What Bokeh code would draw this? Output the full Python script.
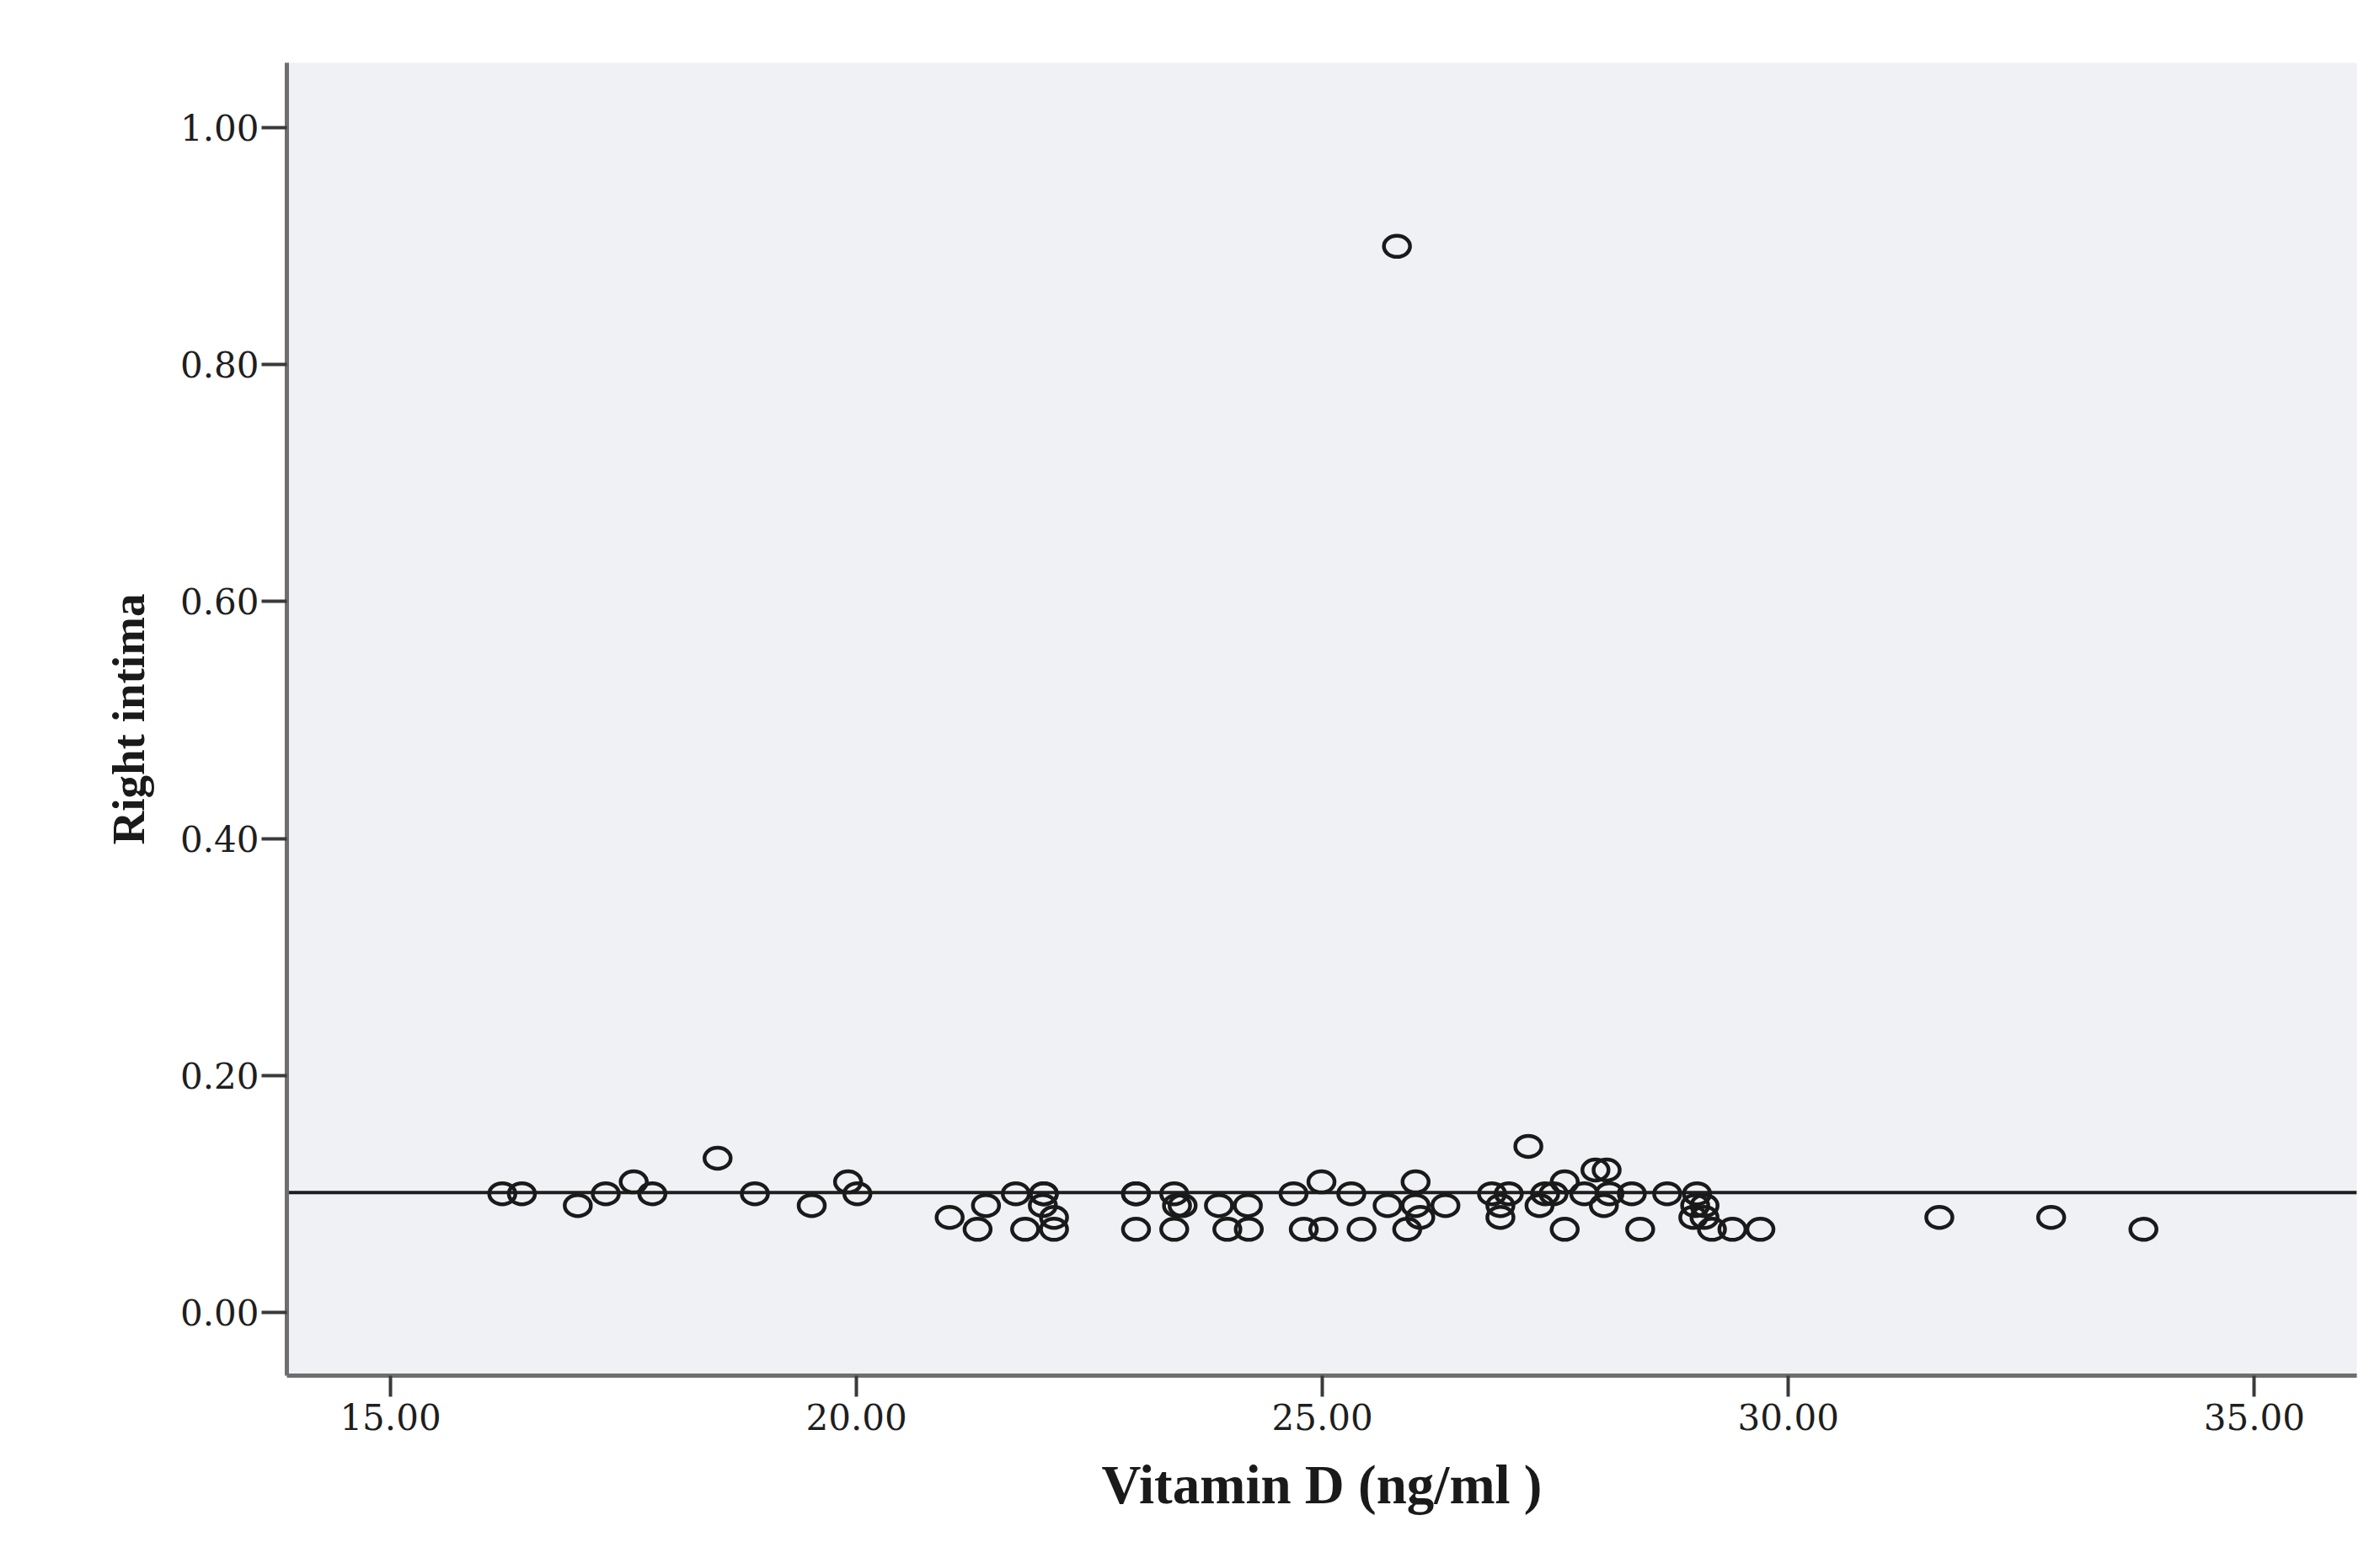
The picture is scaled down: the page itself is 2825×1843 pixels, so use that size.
from bokeh.plotting import figure
from bokeh.models import Range1d, FixedTicker, NumeralTickFormatter, ColumnDataSource
from bokeh.embed import file_html
from bokeh.resources import INLINE

# ---- data ----
vitamin_d = [16.20, 16.41, 17.01, 17.31, 17.61, 17.81, 18.51, 18.91, 19.52, 19.91,
             20.01, 21.00, 21.30, 21.39, 21.71, 21.81, 22.01, 22.01, 22.00, 22.12,
             22.12, 23.00, 23.00, 23.00, 23.41, 23.44, 23.50, 23.41, 23.89, 23.98,
             24.20, 24.21, 24.69, 24.80, 24.99, 25.01, 25.31, 25.42, 25.70, 25.80,
             25.91, 26.00, 26.00, 26.05, 26.32, 26.82, 26.91, 26.91, 27.00, 27.21,
             27.33, 27.39, 27.48, 27.60, 27.60, 27.81, 27.93, 28.05, 28.02, 28.08,
             28.32, 28.41, 28.70, 29.02, 29.00, 29.10, 28.98, 29.10, 29.18, 29.40,
             29.70, 31.62, 32.82, 33.81]
right_intima = [0.10, 0.10, 0.09, 0.10, 0.11, 0.10, 0.13, 0.10, 0.09, 0.11,
                0.10, 0.08, 0.07, 0.09, 0.10, 0.07, 0.10, 0.10, 0.09, 0.08,
                0.07, 0.10, 0.10, 0.07, 0.10, 0.09, 0.09, 0.07, 0.09, 0.07,
                0.09, 0.07, 0.10, 0.07, 0.11, 0.07, 0.10, 0.07, 0.09, 0.90,
                0.07, 0.11, 0.09, 0.08, 0.09, 0.10, 0.09, 0.08, 0.10, 0.14,
                0.09, 0.10, 0.10, 0.11, 0.07, 0.10, 0.12, 0.12, 0.09, 0.10,
                0.10, 0.07, 0.10, 0.10, 0.09, 0.09, 0.08, 0.08, 0.07, 0.07,
                0.07, 0.08, 0.08, 0.07]

x_ticks = [15, 20, 25, 30, 35]
y_ticks = [0.0, 0.2, 0.4, 0.6, 0.8, 1.0]
x_limits = [13.888, 36.10]
y_limits = [-0.0536, 1.055]

fit_intercept = 0.101
fit_slope = 0.0

x_title = "Vitamin D (ng/ml )"
y_title = "Right intima"

# ---- figure ----
p = figure(width=2809, height=1827, output_backend="svg", toolbar_location=None,
           x_range=Range1d(*x_limits), y_range=Range1d(*y_limits),
           min_border_left=340, min_border_top=74, min_border_right=12, min_border_bottom=195)

p.background_fill_color = "#f0f1f4"
p.border_fill_color = "white"
p.outline_line_color = None
p.xgrid.visible = False
p.ygrid.visible = False

fit_x = list(x_limits)
fit_y = [fit_intercept + fit_slope * v for v in fit_x]
p.line(fit_x, fit_y, line_color="#1e1e1e", line_width=4)

src = ColumnDataSource(dict(x=vitamin_d, y=right_intima))
p.ellipse(x="x", y="y", width=31, height=25, width_units="screen", height_units="screen",
          source=src, fill_color=None, line_color="#1a1a1a", line_width=4.5)

for ax, ticks in ((p.xaxis[0], x_ticks), (p.yaxis[0], y_ticks)):
    ax.ticker = FixedTicker(ticks=ticks)
    ax.formatter = NumeralTickFormatter(format="0.00")
    ax.axis_line_color = "#6e6e6e"
    ax.axis_line_width = 5
    ax.major_tick_line_color = "#3a3a3a"
    ax.major_tick_line_width = 4
    ax.major_tick_in = 0
    ax.minor_tick_line_color = None
    ax.major_label_text_font = "DejaVu Serif"
    ax.major_label_text_font_size = "42px"
    ax.major_label_text_color = "#1e1e1e"
    ax.axis_label_text_font = "Liberation Serif"
    ax.axis_label_text_font_style = "bold"
    ax.axis_label_text_color = "#1a1a1a"

p.xaxis.major_tick_out = 25
p.xaxis.major_label_standoff = 8
p.xaxis.axis_label = x_title
p.xaxis.axis_label_text_font_size = "65px"
p.xaxis.axis_label_standoff = 26

p.yaxis.major_tick_out = 30
p.yaxis.major_label_standoff = 3
p.yaxis.axis_label = y_title
p.yaxis.axis_label_text_font_size = "55px"
p.yaxis.axis_label_standoff = 28

open("out.html", "w").write(file_html(p, INLINE))
